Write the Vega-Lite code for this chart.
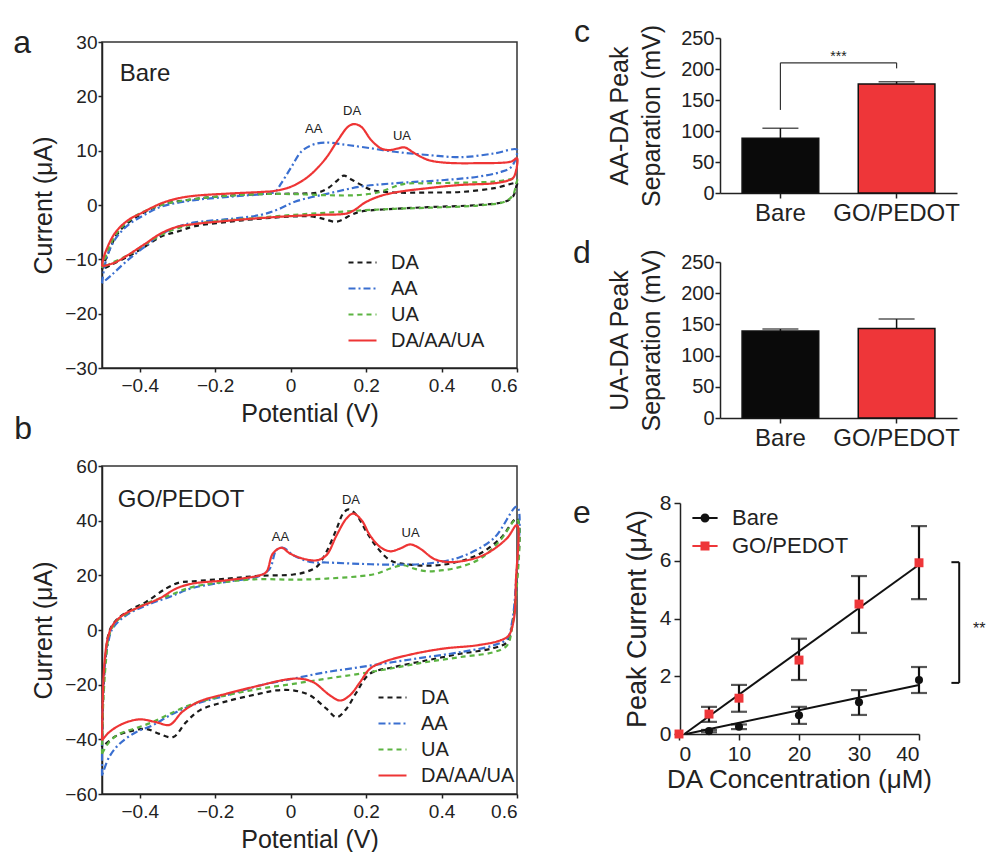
{
"$schema": "https://vega.github.io/schema/vega-lite/v6.json",
"autosize": {"type": "none"},
"padding": {"left": 102, "top": 42, "right": 885, "bottom": 810},
"config": {
  "font": "Liberation Sans",
  "view": {"stroke": null},
  "axis": {"grid": false, "domainColor": "#222", "tickColor": "#222", "labelColor": "#222", "titleColor": "#222", "titleFontWeight": "normal", "domainWidth": 1.5, "tickWidth": 1.5, "labelOverlap": false},
  "legend": {"labelColor": "#222", "padding": 0},
  "text": {"color": "#222"}
},
"datasets": {
"one": [{}],
"cva": [
{"s":"DA","i":0,"E":-0.5,"I":-11.9},{"s":"DA","i":1,"E":-0.484,"I":-8.9},{"s":"DA","i":2,"E":-0.458,"I":-5.2},{"s":"DA","i":3,"E":-0.413,"I":-2.4},{"s":"DA","i":4,"E":-0.343,"I":0},{"s":"DA","i":5,"E":-0.254,"I":1.1},{"s":"DA","i":6,"E":-0.166,"I":1.7},{"s":"DA","i":7,"E":-0.078,"I":2.0},{"s":"DA","i":8,"E":0.011,"I":2.1},{"s":"DA","i":9,"E":0.072,"I":2.3},{"s":"DA","i":10,"E":0.099,"I":3.1},{"s":"DA","i":11,"E":0.125,"I":4.6},{"s":"DA","i":12,"E":0.141,"I":5.4},{"s":"DA","i":13,"E":0.161,"I":4.7},{"s":"DA","i":14,"E":0.187,"I":3.7},{"s":"DA","i":15,"E":0.214,"I":2.8},{"s":"DA","i":16,"E":0.276,"I":2.3},{"s":"DA","i":17,"E":0.364,"I":2.3},{"s":"DA","i":18,"E":0.452,"I":2.4},{"s":"DA","i":19,"E":0.54,"I":3.1},{"s":"DA","i":20,"E":0.6,"I":4.0},{"s":"DA","i":21,"E":0.598,"I":3.4},{"s":"DA","i":22,"E":0.589,"I":1.5},{"s":"DA","i":23,"E":0.567,"I":0.6},{"s":"DA","i":24,"E":0.496,"I":0},{"s":"DA","i":25,"E":0.364,"I":-0.4},{"s":"DA","i":26,"E":0.276,"I":-0.7},{"s":"DA","i":27,"E":0.187,"I":-1.2},{"s":"DA","i":28,"E":0.161,"I":-1.8},{"s":"DA","i":29,"E":0.134,"I":-2.8},{"s":"DA","i":30,"E":0.117,"I":-3.1},{"s":"DA","i":31,"E":0.09,"I":-2.6},{"s":"DA","i":32,"E":0.055,"I":-2.1},{"s":"DA","i":33,"E":0.011,"I":-2.1},{"s":"DA","i":34,"E":-0.078,"I":-2.5},{"s":"DA","i":35,"E":-0.166,"I":-3.1},{"s":"DA","i":36,"E":-0.254,"I":-3.9},{"s":"DA","i":37,"E":-0.3,"I":-4.9},{"s":"DA","i":38,"E":-0.343,"I":-5.8},{"s":"DA","i":39,"E":-0.387,"I":-7.7},{"s":"DA","i":40,"E":-0.431,"I":-9.5},{"s":"DA","i":41,"E":-0.475,"I":-11.0},{"s":"DA","i":42,"E":-0.5,"I":-11.9},
{"s":"AA","i":0,"E":-0.5,"I":-14.4},{"s":"AA","i":1,"E":-0.489,"I":-10.1},{"s":"AA","i":2,"E":-0.466,"I":-6.4},{"s":"AA","i":3,"E":-0.431,"I":-3.7},{"s":"AA","i":4,"E":-0.387,"I":-1.8},{"s":"AA","i":5,"E":-0.343,"I":-0.3},{"s":"AA","i":6,"E":-0.254,"I":0.9},{"s":"AA","i":7,"E":-0.166,"I":1.5},{"s":"AA","i":8,"E":-0.078,"I":2.0},{"s":"AA","i":9,"E":-0.042,"I":2.4},{"s":"AA","i":10,"E":-0.025,"I":4.0},{"s":"AA","i":11,"E":0.002,"I":7.0},{"s":"AA","i":12,"E":0.028,"I":9.8},{"s":"AA","i":13,"E":0.055,"I":11.0},{"s":"AA","i":14,"E":0.09,"I":11.5},{"s":"AA","i":15,"E":0.143,"I":11.1},{"s":"AA","i":16,"E":0.187,"I":10.7},{"s":"AA","i":17,"E":0.276,"I":9.8},{"s":"AA","i":18,"E":0.364,"I":9.2},{"s":"AA","i":19,"E":0.452,"I":8.8},{"s":"AA","i":20,"E":0.54,"I":9.5},{"s":"AA","i":21,"E":0.6,"I":10.2},{"s":"AA","i":22,"E":0.598,"I":8.9},{"s":"AA","i":23,"E":0.585,"I":7.0},{"s":"AA","i":24,"E":0.558,"I":6.1},{"s":"AA","i":25,"E":0.496,"I":5.2},{"s":"AA","i":26,"E":0.408,"I":4.6},{"s":"AA","i":27,"E":0.276,"I":4.0},{"s":"AA","i":28,"E":0.187,"I":3.4},{"s":"AA","i":29,"E":0.099,"I":2.1},{"s":"AA","i":30,"E":0.011,"I":0.6},{"s":"AA","i":31,"E":-0.033,"I":-0.8},{"s":"AA","i":32,"E":-0.078,"I":-1.8},{"s":"AA","i":33,"E":-0.166,"I":-2.6},{"s":"AA","i":34,"E":-0.254,"I":-3.2},{"s":"AA","i":35,"E":-0.3,"I":-4.0},{"s":"AA","i":36,"E":-0.343,"I":-5.4},{"s":"AA","i":37,"E":-0.387,"I":-7.7},{"s":"AA","i":38,"E":-0.431,"I":-10.1},{"s":"AA","i":39,"E":-0.475,"I":-12.9},{"s":"AA","i":40,"E":-0.5,"I":-14.4},
{"s":"UA","i":0,"E":-0.5,"I":-11.6},{"s":"UA","i":1,"E":-0.484,"I":-8.3},{"s":"UA","i":2,"E":-0.458,"I":-4.9},{"s":"UA","i":3,"E":-0.413,"I":-2.1},{"s":"UA","i":4,"E":-0.343,"I":0},{"s":"UA","i":5,"E":-0.254,"I":1.1},{"s":"UA","i":6,"E":-0.166,"I":1.7},{"s":"UA","i":7,"E":-0.078,"I":2.0},{"s":"UA","i":8,"E":0.011,"I":2.0},{"s":"UA","i":9,"E":0.099,"I":1.8},{"s":"UA","i":10,"E":0.17,"I":1.8},{"s":"UA","i":11,"E":0.231,"I":2.3},{"s":"UA","i":12,"E":0.276,"I":3.4},{"s":"UA","i":13,"E":0.302,"I":3.9},{"s":"UA","i":14,"E":0.364,"I":4.0},{"s":"UA","i":15,"E":0.452,"I":4.1},{"s":"UA","i":16,"E":0.54,"I":4.3},{"s":"UA","i":17,"E":0.6,"I":4.7},{"s":"UA","i":18,"E":0.598,"I":4.0},{"s":"UA","i":19,"E":0.589,"I":1.8},{"s":"UA","i":20,"E":0.567,"I":0.6},{"s":"UA","i":21,"E":0.496,"I":-0.1},{"s":"UA","i":22,"E":0.364,"I":-0.5},{"s":"UA","i":23,"E":0.276,"I":-0.7},{"s":"UA","i":24,"E":0.187,"I":-1.0},{"s":"UA","i":25,"E":0.099,"I":-1.4},{"s":"UA","i":26,"E":0.011,"I":-1.8},{"s":"UA","i":27,"E":-0.078,"I":-2.3},{"s":"UA","i":28,"E":-0.166,"I":-2.8},{"s":"UA","i":29,"E":-0.254,"I":-3.5},{"s":"UA","i":30,"E":-0.3,"I":-4.3},{"s":"UA","i":31,"E":-0.343,"I":-5.5},{"s":"UA","i":32,"E":-0.387,"I":-7.3},{"s":"UA","i":33,"E":-0.431,"I":-9.2},{"s":"UA","i":34,"E":-0.475,"I":-10.7},{"s":"UA","i":35,"E":-0.5,"I":-11.6},
{"s":"DA/AA/UA","i":0,"E":-0.5,"I":-11.3},{"s":"DA/AA/UA","i":1,"E":-0.495,"I":-9.5},{"s":"DA/AA/UA","i":2,"E":-0.466,"I":-5.2},{"s":"DA/AA/UA","i":3,"E":-0.431,"I":-2.8},{"s":"DA/AA/UA","i":4,"E":-0.396,"I":-1.5},{"s":"DA/AA/UA","i":5,"E":-0.343,"I":0.3},{"s":"DA/AA/UA","i":6,"E":-0.3,"I":1.2},{"s":"DA/AA/UA","i":7,"E":-0.254,"I":1.7},{"s":"DA/AA/UA","i":8,"E":-0.166,"I":2.1},{"s":"DA/AA/UA","i":9,"E":-0.078,"I":2.4},{"s":"DA/AA/UA","i":10,"E":-0.042,"I":2.6},{"s":"DA/AA/UA","i":11,"E":0.002,"I":3.4},{"s":"DA/AA/UA","i":12,"E":0.046,"I":5.2},{"s":"DA/AA/UA","i":13,"E":0.09,"I":8.3},{"s":"DA/AA/UA","i":14,"E":0.125,"I":11.9},{"s":"DA/AA/UA","i":15,"E":0.152,"I":14.4},{"s":"DA/AA/UA","i":16,"E":0.168,"I":14.9},{"s":"DA/AA/UA","i":17,"E":0.187,"I":14.4},{"s":"DA/AA/UA","i":18,"E":0.214,"I":11.9},{"s":"DA/AA/UA","i":19,"E":0.24,"I":10.4},{"s":"DA/AA/UA","i":20,"E":0.262,"I":10.1},{"s":"DA/AA/UA","i":21,"E":0.284,"I":10.4},{"s":"DA/AA/UA","i":22,"E":0.302,"I":10.6},{"s":"DA/AA/UA","i":23,"E":0.329,"I":9.5},{"s":"DA/AA/UA","i":24,"E":0.364,"I":8.3},{"s":"DA/AA/UA","i":25,"E":0.408,"I":7.8},{"s":"DA/AA/UA","i":26,"E":0.496,"I":7.7},{"s":"DA/AA/UA","i":27,"E":0.585,"I":8.0},{"s":"DA/AA/UA","i":28,"E":0.6,"I":8.6},{"s":"DA/AA/UA","i":29,"E":0.598,"I":6.5},{"s":"DA/AA/UA","i":30,"E":0.59,"I":5.0},{"s":"DA/AA/UA","i":31,"E":0.576,"I":4.5},{"s":"DA/AA/UA","i":32,"E":0.54,"I":4.0},{"s":"DA/AA/UA","i":33,"E":0.452,"I":3.7},{"s":"DA/AA/UA","i":34,"E":0.364,"I":3.1},{"s":"DA/AA/UA","i":35,"E":0.276,"I":2.3},{"s":"DA/AA/UA","i":36,"E":0.231,"I":1.5},{"s":"DA/AA/UA","i":37,"E":0.196,"I":0.4},{"s":"DA/AA/UA","i":38,"E":0.17,"I":-0.9},{"s":"DA/AA/UA","i":39,"E":0.152,"I":-1.5},{"s":"DA/AA/UA","i":40,"E":0.134,"I":-1.7},{"s":"DA/AA/UA","i":41,"E":0.081,"I":-1.8},{"s":"DA/AA/UA","i":42,"E":0.011,"I":-2.0},{"s":"DA/AA/UA","i":43,"E":-0.078,"I":-2.4},{"s":"DA/AA/UA","i":44,"E":-0.166,"I":-2.9},{"s":"DA/AA/UA","i":45,"E":-0.254,"I":-3.5},{"s":"DA/AA/UA","i":46,"E":-0.3,"I":-4.0},{"s":"DA/AA/UA","i":47,"E":-0.343,"I":-5.2},{"s":"DA/AA/UA","i":48,"E":-0.387,"I":-7.2},{"s":"DA/AA/UA","i":49,"E":-0.431,"I":-9.2},{"s":"DA/AA/UA","i":50,"E":-0.466,"I":-10.6},{"s":"DA/AA/UA","i":51,"E":-0.5,"I":-11.3}
],
"cvb": [
{"s":"DA","i":0,"E":-0.5,"I":-42.9},{"s":"DA","i":1,"E":-0.497,"I":-25},{"s":"DA","i":2,"E":-0.491,"I":-10.5},{"s":"DA","i":3,"E":-0.481,"I":-0.7},{"s":"DA","i":4,"E":-0.463,"I":3.5},{"s":"DA","i":5,"E":-0.427,"I":7.2},{"s":"DA","i":6,"E":-0.383,"I":10.3},{"s":"DA","i":7,"E":-0.33,"I":15.2},{"s":"DA","i":8,"E":-0.294,"I":17.4},{"s":"DA","i":9,"E":-0.259,"I":17.8},{"s":"DA","i":10,"E":-0.17,"I":18.8},{"s":"DA","i":11,"E":-0.082,"I":19.8},{"s":"DA","i":12,"E":0.007,"I":20.3},{"s":"DA","i":13,"E":0.042,"I":21.3},{"s":"DA","i":14,"E":0.069,"I":23.1},{"s":"DA","i":15,"E":0.095,"I":28.6},{"s":"DA","i":16,"E":0.122,"I":37.1},{"s":"DA","i":17,"E":0.139,"I":42.6},{"s":"DA","i":18,"E":0.153,"I":44.1},{"s":"DA","i":19,"E":0.175,"I":42.0},{"s":"DA","i":20,"E":0.201,"I":35.9},{"s":"DA","i":21,"E":0.228,"I":30.4},{"s":"DA","i":22,"E":0.264,"I":25.5},{"s":"DA","i":23,"E":0.317,"I":23.9},{"s":"DA","i":24,"E":0.405,"I":23.9},{"s":"DA","i":25,"E":0.494,"I":27.4},{"s":"DA","i":26,"E":0.556,"I":33.5},{"s":"DA","i":27,"E":0.6,"I":40.8},{"s":"DA","i":28,"E":0.597,"I":13.9},{"s":"DA","i":29,"E":0.587,"I":1.7},{"s":"DA","i":30,"E":0.574,"I":-4.4},{"s":"DA","i":31,"E":0.538,"I":-6.6},{"s":"DA","i":32,"E":0.45,"I":-8.7},{"s":"DA","i":33,"E":0.361,"I":-11.1},{"s":"DA","i":34,"E":0.273,"I":-13.6},{"s":"DA","i":35,"E":0.21,"I":-16.0},{"s":"DA","i":36,"E":0.175,"I":-22.7},{"s":"DA","i":37,"E":0.148,"I":-28.8},{"s":"DA","i":38,"E":0.122,"I":-31.9},{"s":"DA","i":39,"E":0.095,"I":-28.8},{"s":"DA","i":40,"E":0.051,"I":-23.9},{"s":"DA","i":41,"E":0.007,"I":-22.1},{"s":"DA","i":42,"E":-0.038,"I":-22.1},{"s":"DA","i":43,"E":-0.082,"I":-23.3},{"s":"DA","i":44,"E":-0.17,"I":-26.1},{"s":"DA","i":45,"E":-0.241,"I":-29.4},{"s":"DA","i":46,"E":-0.277,"I":-33.7},{"s":"DA","i":47,"E":-0.312,"I":-39.2},{"s":"DA","i":48,"E":-0.348,"I":-38.0},{"s":"DA","i":49,"E":-0.383,"I":-36.2},{"s":"DA","i":50,"E":-0.418,"I":-36.8},{"s":"DA","i":51,"E":-0.463,"I":-38.8},{"s":"DA","i":52,"E":-0.5,"I":-42.9},
{"s":"AA","i":0,"E":-0.5,"I":-53.3},{"s":"AA","i":1,"E":-0.499,"I":-31.3},{"s":"AA","i":2,"E":-0.494,"I":-15.4},{"s":"AA","i":3,"E":-0.485,"I":-5.6},{"s":"AA","i":4,"E":-0.472,"I":0.5},{"s":"AA","i":5,"E":-0.436,"I":5.4},{"s":"AA","i":6,"E":-0.383,"I":9.0},{"s":"AA","i":7,"E":-0.321,"I":12.1},{"s":"AA","i":8,"E":-0.259,"I":15.4},{"s":"AA","i":9,"E":-0.17,"I":17.6},{"s":"AA","i":10,"E":-0.082,"I":19.8},{"s":"AA","i":11,"E":-0.055,"I":22.5},{"s":"AA","i":12,"E":-0.038,"I":29.2},{"s":"AA","i":13,"E":-0.02,"I":30.1},{"s":"AA","i":14,"E":0.007,"I":27.4},{"s":"AA","i":15,"E":0.051,"I":24.9},{"s":"AA","i":16,"E":0.095,"I":24.7},{"s":"AA","i":17,"E":0.184,"I":24.2},{"s":"AA","i":18,"E":0.273,"I":23.9},{"s":"AA","i":19,"E":0.361,"I":24.3},{"s":"AA","i":20,"E":0.45,"I":26.7},{"s":"AA","i":21,"E":0.538,"I":33.5},{"s":"AA","i":22,"E":0.6,"I":45.1},{"s":"AA","i":23,"E":0.597,"I":17.6},{"s":"AA","i":24,"E":0.587,"I":2.9},{"s":"AA","i":25,"E":0.574,"I":-3.2},{"s":"AA","i":26,"E":0.538,"I":-5.6},{"s":"AA","i":27,"E":0.45,"I":-8.1},{"s":"AA","i":28,"E":0.361,"I":-9.9},{"s":"AA","i":29,"E":0.273,"I":-11.7},{"s":"AA","i":30,"E":0.184,"I":-13.6},{"s":"AA","i":31,"E":0.095,"I":-15.4},{"s":"AA","i":32,"E":0.007,"I":-17.8},{"s":"AA","i":33,"E":-0.082,"I":-20.3},{"s":"AA","i":34,"E":-0.17,"I":-23.9},{"s":"AA","i":35,"E":-0.259,"I":-27.4},{"s":"AA","i":36,"E":-0.321,"I":-31.3},{"s":"AA","i":37,"E":-0.366,"I":-34.9},{"s":"AA","i":38,"E":-0.41,"I":-37.4},{"s":"AA","i":39,"E":-0.454,"I":-41.7},{"s":"AA","i":40,"E":-0.481,"I":-46.5},{"s":"AA","i":41,"E":-0.5,"I":-53.3},
{"s":"UA","i":0,"E":-0.5,"I":-45.3},{"s":"UA","i":1,"E":-0.497,"I":-27.6},{"s":"UA","i":2,"E":-0.489,"I":-10.5},{"s":"UA","i":3,"E":-0.481,"I":-2.0},{"s":"UA","i":4,"E":-0.463,"I":2.9},{"s":"UA","i":5,"E":-0.427,"I":6.6},{"s":"UA","i":6,"E":-0.383,"I":9.7},{"s":"UA","i":7,"E":-0.321,"I":12.7},{"s":"UA","i":8,"E":-0.259,"I":15.8},{"s":"UA","i":9,"E":-0.17,"I":17.6},{"s":"UA","i":10,"E":-0.082,"I":18.6},{"s":"UA","i":11,"E":0.007,"I":18.4},{"s":"UA","i":12,"E":0.095,"I":18.8},{"s":"UA","i":13,"E":0.184,"I":19.7},{"s":"UA","i":14,"E":0.228,"I":20.6},{"s":"UA","i":15,"E":0.264,"I":22.5},{"s":"UA","i":16,"E":0.299,"I":23.7},{"s":"UA","i":17,"E":0.326,"I":22.5},{"s":"UA","i":18,"E":0.361,"I":21.5},{"s":"UA","i":19,"E":0.405,"I":21.9},{"s":"UA","i":20,"E":0.45,"I":23.1},{"s":"UA","i":21,"E":0.503,"I":26.1},{"s":"UA","i":22,"E":0.556,"I":32.9},{"s":"UA","i":23,"E":0.6,"I":40.6},{"s":"UA","i":24,"E":0.597,"I":11.5},{"s":"UA","i":25,"E":0.587,"I":1.1},{"s":"UA","i":26,"E":0.574,"I":-5.6},{"s":"UA","i":27,"E":0.538,"I":-8.1},{"s":"UA","i":28,"E":0.45,"I":-9.9},{"s":"UA","i":29,"E":0.361,"I":-11.7},{"s":"UA","i":30,"E":0.273,"I":-13.9},{"s":"UA","i":31,"E":0.184,"I":-16.0},{"s":"UA","i":32,"E":0.095,"I":-17.8},{"s":"UA","i":33,"E":0.007,"I":-19.7},{"s":"UA","i":34,"E":-0.082,"I":-21.5},{"s":"UA","i":35,"E":-0.17,"I":-23.9},{"s":"UA","i":36,"E":-0.259,"I":-27.0},{"s":"UA","i":37,"E":-0.321,"I":-30.7},{"s":"UA","i":38,"E":-0.366,"I":-33.7},{"s":"UA","i":39,"E":-0.41,"I":-35.9},{"s":"UA","i":40,"E":-0.454,"I":-38.0},{"s":"UA","i":41,"E":-0.481,"I":-41.0},{"s":"UA","i":42,"E":-0.5,"I":-45.3},
{"s":"DA/AA/UA","i":0,"E":-0.5,"I":-40.4},{"s":"DA/AA/UA","i":1,"E":-0.498,"I":-25.2},{"s":"DA/AA/UA","i":2,"E":-0.494,"I":-13},{"s":"DA/AA/UA","i":3,"E":-0.485,"I":-3.2},{"s":"DA/AA/UA","i":4,"E":-0.472,"I":1.7},{"s":"DA/AA/UA","i":5,"E":-0.445,"I":5.4},{"s":"DA/AA/UA","i":6,"E":-0.401,"I":8.4},{"s":"DA/AA/UA","i":7,"E":-0.348,"I":11.5},{"s":"DA/AA/UA","i":8,"E":-0.303,"I":15.2},{"s":"DA/AA/UA","i":9,"E":-0.259,"I":17.0},{"s":"DA/AA/UA","i":10,"E":-0.17,"I":18.2},{"s":"DA/AA/UA","i":11,"E":-0.082,"I":20.0},{"s":"DA/AA/UA","i":12,"E":-0.064,"I":21.3},{"s":"DA/AA/UA","i":13,"E":-0.047,"I":28.0},{"s":"DA/AA/UA","i":14,"E":-0.024,"I":30.1},{"s":"DA/AA/UA","i":15,"E":-0.002,"I":28.0},{"s":"DA/AA/UA","i":16,"E":0.033,"I":26.1},{"s":"DA/AA/UA","i":17,"E":0.069,"I":25.5},{"s":"DA/AA/UA","i":18,"E":0.095,"I":27.4},{"s":"DA/AA/UA","i":19,"E":0.122,"I":34.7},{"s":"DA/AA/UA","i":20,"E":0.148,"I":40.8},{"s":"DA/AA/UA","i":21,"E":0.166,"I":42.6},{"s":"DA/AA/UA","i":22,"E":0.188,"I":40.2},{"s":"DA/AA/UA","i":23,"E":0.21,"I":34.7},{"s":"DA/AA/UA","i":24,"E":0.237,"I":30.4},{"s":"DA/AA/UA","i":25,"E":0.264,"I":28.8},{"s":"DA/AA/UA","i":26,"E":0.29,"I":29.8},{"s":"DA/AA/UA","i":27,"E":0.317,"I":31.3},{"s":"DA/AA/UA","i":28,"E":0.343,"I":29.8},{"s":"DA/AA/UA","i":29,"E":0.379,"I":26.1},{"s":"DA/AA/UA","i":30,"E":0.414,"I":24.9},{"s":"DA/AA/UA","i":31,"E":0.467,"I":25.5},{"s":"DA/AA/UA","i":32,"E":0.52,"I":28.0},{"s":"DA/AA/UA","i":33,"E":0.573,"I":33.5},{"s":"DA/AA/UA","i":34,"E":0.6,"I":38.4},{"s":"DA/AA/UA","i":35,"E":0.597,"I":17.6},{"s":"DA/AA/UA","i":36,"E":0.592,"I":4.2},{"s":"DA/AA/UA","i":37,"E":0.578,"I":-2.0},{"s":"DA/AA/UA","i":38,"E":0.556,"I":-3.8},{"s":"DA/AA/UA","i":39,"E":0.494,"I":-5.6},{"s":"DA/AA/UA","i":40,"E":0.405,"I":-6.8},{"s":"DA/AA/UA","i":41,"E":0.317,"I":-9.0},{"s":"DA/AA/UA","i":42,"E":0.246,"I":-11.7},{"s":"DA/AA/UA","i":43,"E":0.21,"I":-14.2},{"s":"DA/AA/UA","i":44,"E":0.184,"I":-19.1},{"s":"DA/AA/UA","i":45,"E":0.157,"I":-23.9},{"s":"DA/AA/UA","i":46,"E":0.131,"I":-25.8},{"s":"DA/AA/UA","i":47,"E":0.104,"I":-23.9},{"s":"DA/AA/UA","i":48,"E":0.06,"I":-19.1},{"s":"DA/AA/UA","i":49,"E":0.024,"I":-17.8},{"s":"DA/AA/UA","i":50,"E":-0.011,"I":-18.1},{"s":"DA/AA/UA","i":51,"E":-0.082,"I":-20.3},{"s":"DA/AA/UA","i":52,"E":-0.17,"I":-23.3},{"s":"DA/AA/UA","i":53,"E":-0.241,"I":-26.1},{"s":"DA/AA/UA","i":54,"E":-0.286,"I":-29.8},{"s":"DA/AA/UA","i":55,"E":-0.321,"I":-34.7},{"s":"DA/AA/UA","i":56,"E":-0.357,"I":-33.7},{"s":"DA/AA/UA","i":57,"E":-0.401,"I":-32.7},{"s":"DA/AA/UA","i":58,"E":-0.445,"I":-34.3},{"s":"DA/AA/UA","i":59,"E":-0.481,"I":-37.4},{"s":"DA/AA/UA","i":60,"E":-0.5,"I":-40.4}
],
"barC": [{"g":"Bare","m":88.5,"hi":104.5},{"g":"GO/PEDOT","m":176,"hi":179.5}],
"barD": [{"g":"Bare","m":139.4,"hi":142.6},{"g":"GO/PEDOT","m":143.6,"hi":158.5}],
"eP": [
{"s":"Bare","c":0,"m":0,"lo":0,"hi":0},{"s":"Bare","c":5,"m":0.1,"lo":0.06,"hi":0.14},{"s":"Bare","c":10,"m":0.25,"lo":0.17,"hi":0.33},{"s":"Bare","c":20,"m":0.65,"lo":0.35,"hi":0.94},{"s":"Bare","c":30,"m":1.1,"lo":0.66,"hi":1.52},{"s":"Bare","c":40,"m":1.87,"lo":1.42,"hi":2.32},
{"s":"GO/PEDOT","c":0,"m":0,"lo":0,"hi":0},{"s":"GO/PEDOT","c":5,"m":0.69,"lo":0.42,"hi":0.94},{"s":"GO/PEDOT","c":10,"m":1.24,"lo":0.77,"hi":1.7},{"s":"GO/PEDOT","c":20,"m":2.56,"lo":1.87,"hi":3.3},{"s":"GO/PEDOT","c":30,"m":4.5,"lo":3.5,"hi":5.47},{"s":"GO/PEDOT","c":40,"m":5.93,"lo":4.67,"hi":7.2}
],
"eF": [{"s":"Bare","c":1.2,"m":0},{"s":"Bare","c":40,"m":1.7},{"s":"GO/PEDOT","c":0.9,"m":0},{"s":"GO/PEDOT","c":40,"m":5.86}]
},
"bounds": "flush",
"spacing": 618,
"resolve": {"scale": {"color": "independent", "strokeDash": "independent", "strokeWidth": "independent", "shape": "independent"}, "legend": {"color": "independent", "strokeDash": "independent", "shape": "independent"}},
"hconcat": [
{
"vconcat": [
{
"width": 415, "height": 326,
"view": {"stroke": "#333", "strokeWidth": 1.5},
"layer": [
{"data": {"name": "cva"}, "mark": {"type": "line", "interpolate": "catmull-rom"},
 "encoding": {
  "x": {"field": "E", "type": "quantitative", "scale": {"domain": [-0.5, 0.6], "nice": false, "zero": false}, "axis": {"values": [-0.4,-0.2,0,0.2,0.4,0.6], "format": "~g", "title": "Potential (V)", "labelFontSize": 19, "titleFontSize": 25, "tickSize": 4, "labelPadding": 4, "titlePadding": 6}},
  "y": {"field": "I", "type": "quantitative", "scale": {"domain": [-30, 30], "nice": false, "zero": false}, "axis": {"values": [-30,-20,-10,0,10,20,30], "title": "Current (μA)", "labelFontSize": 19, "titleFontSize": 25, "tickSize": 4, "labelPadding": 1, "titlePadding": 8}},
  "order": {"field": "i", "type": "quantitative"},
  "color": {"field": "s", "type": "nominal", "scale": {"domain": ["DA","AA","UA","DA/AA/UA"], "range": ["#1a1a1a","#3a6fd0","#5cb442","#ee3535"]}, "legend": {"title": null, "orient": "none", "legendX": 245, "legendY": 205, "labelFontSize": 20, "symbolSize": 784, "symbolStrokeWidth": 2.2, "labelOffset": 13, "rowPadding": 0, "symbolType": "stroke"}},
  "strokeDash": {"field": "s", "type": "nominal", "scale": {"domain": ["DA","AA","UA","DA/AA/UA"], "range": [[5,4],[7,3,2,3],[5,4],[1,0]]}, "legend": {"title": null, "orient": "none", "legendX": 245, "legendY": 205, "labelFontSize": 20, "symbolSize": 784, "symbolStrokeWidth": 2.2, "labelOffset": 13, "rowPadding": 0, "symbolType": "stroke"}},
  "strokeWidth": {"field": "s", "type": "nominal", "scale": {"domain": ["DA","AA","UA","DA/AA/UA"], "range": [2.2,2.2,2.2,2.6]}, "legend": null}
 }},
{"data": {"name": "one"}, "mark": {"type": "text", "fontSize": 24, "align": "left", "baseline": "middle"}, "encoding": {"x": {"datum": -0.453}, "y": {"datum": 24.2}, "text": {"value": "Bare"}}},
{"data": {"name": "one"}, "mark": {"type": "text", "fontSize": 13, "align": "center", "baseline": "middle"}, "encoding": {"x": {"datum": 0.061}, "y": {"datum": 14.0}, "text": {"value": "AA"}}},
{"data": {"name": "one"}, "mark": {"type": "text", "fontSize": 13, "align": "center", "baseline": "middle"}, "encoding": {"x": {"datum": 0.163}, "y": {"datum": 17.3}, "text": {"value": "DA"}}},
{"data": {"name": "one"}, "mark": {"type": "text", "fontSize": 13, "align": "center", "baseline": "middle"}, "encoding": {"x": {"datum": 0.295}, "y": {"datum": 12.7}, "text": {"value": "UA"}}},
{"data": {"name": "one"}, "mark": {"type": "text", "fontSize": 32, "align": "center", "baseline": "alphabetic"}, "encoding": {"x": {"datum": -0.712}, "y": {"datum": 28.0}, "text": {"value": "a"}}},
{"data": {"name": "one"}, "mark": {"type": "text", "fontSize": 32, "align": "center", "baseline": "alphabetic"}, "encoding": {"x": {"datum": 0.772}, "y": {"datum": 30.0}, "text": {"value": "c"}}},
{"data": {"name": "one"}, "mark": {"type": "text", "fontSize": 32, "align": "center", "baseline": "alphabetic"}, "encoding": {"x": {"datum": 0.772}, "y": {"datum": -10.7}, "text": {"value": "d"}}}
]
},
{
"width": 415, "height": 328,
"view": {"stroke": "#333", "strokeWidth": 1.5},
"layer": [
{"data": {"name": "cvb"}, "mark": {"type": "line", "interpolate": "catmull-rom"},
 "encoding": {
  "x": {"field": "E", "type": "quantitative", "scale": {"domain": [-0.5, 0.6], "nice": false, "zero": false}, "axis": {"values": [-0.4,-0.2,0,0.2,0.4,0.6], "format": "~g", "title": "Potential (V)", "labelFontSize": 19, "titleFontSize": 25, "tickSize": 4, "labelPadding": 4, "titlePadding": 6}},
  "y": {"field": "I", "type": "quantitative", "scale": {"domain": [-60, 60], "nice": false, "zero": false}, "axis": {"values": [-60,-40,-20,0,20,40,60], "title": "Current (μA)", "labelFontSize": 19, "titleFontSize": 25, "tickSize": 4, "labelPadding": 1, "titlePadding": 8}},
  "order": {"field": "i", "type": "quantitative"},
  "color": {"field": "s", "type": "nominal", "scale": {"domain": ["DA","AA","UA","DA/AA/UA"], "range": ["#1a1a1a","#3a6fd0","#5cb442","#ee3535"]}, "legend": {"title": null, "orient": "none", "legendX": 275, "legendY": 216, "labelFontSize": 20, "symbolSize": 784, "symbolStrokeWidth": 2.2, "labelOffset": 13, "rowPadding": -1, "symbolType": "stroke"}},
  "strokeDash": {"field": "s", "type": "nominal", "scale": {"domain": ["DA","AA","UA","DA/AA/UA"], "range": [[5,4],[7,3,2,3],[5,4],[1,0]]}, "legend": {"title": null, "orient": "none", "legendX": 275, "legendY": 216, "labelFontSize": 20, "symbolSize": 784, "symbolStrokeWidth": 2.2, "labelOffset": 13, "rowPadding": -1, "symbolType": "stroke"}},
  "strokeWidth": {"field": "s", "type": "nominal", "scale": {"domain": ["DA","AA","UA","DA/AA/UA"], "range": [2.2,2.2,2.2,2.6]}, "legend": null}
 }},
{"data": {"name": "one"}, "mark": {"type": "text", "fontSize": 24, "align": "left", "baseline": "middle"}, "encoding": {"x": {"datum": -0.458}, "y": {"datum": 47.6}, "text": {"value": "GO/PEDOT"}}},
{"data": {"name": "one"}, "mark": {"type": "text", "fontSize": 13, "align": "center", "baseline": "middle"}, "encoding": {"x": {"datum": -0.027}, "y": {"datum": 34.1}, "text": {"value": "AA"}}},
{"data": {"name": "one"}, "mark": {"type": "text", "fontSize": 13, "align": "center", "baseline": "middle"}, "encoding": {"x": {"datum": 0.16}, "y": {"datum": 47.6}, "text": {"value": "DA"}}},
{"data": {"name": "one"}, "mark": {"type": "text", "fontSize": 13, "align": "center", "baseline": "middle"}, "encoding": {"x": {"datum": 0.318}, "y": {"datum": 35.6}, "text": {"value": "UA"}}},
{"data": {"name": "one"}, "mark": {"type": "text", "fontSize": 32, "align": "center", "baseline": "alphabetic"}, "encoding": {"x": {"datum": -0.709}, "y": {"datum": 69.9}, "text": {"value": "b"}}},
{"data": {"name": "one"}, "mark": {"type": "text", "fontSize": 32, "align": "center", "baseline": "alphabetic"}, "encoding": {"x": {"datum": 0.772}, "y": {"datum": 39.2}, "text": {"value": "e"}}}
]
}
],
"spacing": 98,
"bounds": "flush",
"resolve": {"scale": {"color": "independent", "strokeDash": "independent", "strokeWidth": "independent"}, "legend": {"color": "independent", "strokeDash": "independent"}}
},
{
"vconcat": [
{
"width": 237, "height": 151,
"data": {"name": "barC"},
"layer": [
{"mark": {"type": "bar", "stroke": "#111", "strokeWidth": 1.5},
 "encoding": {
  "x": {"field": "g", "type": "nominal", "scale": {"domain": ["Bare","GO/PEDOT"], "paddingInner": 0.34, "paddingOuter": 0.19}, "axis": {"title": null, "labelAngle": 0, "labelFontSize": 24, "tickSize": 5, "labelPadding": 3}},
  "y": {"field": "m", "type": "quantitative", "scale": {"domain": [0, 250], "range": [151, -4], "nice": false}, "axis": {"values": [0,50,100,150,200,250], "tickCount": 6, "labelOverlap": false, "title": ["AA-DA Peak", "Separation (mV)"], "titleFontSize": 25, "titleLineHeight": 32, "labelFontSize": 20, "tickSize": 5, "labelPadding": 1, "titlePadding": 16}},
  "color": {"field": "g", "type": "nominal", "scale": {"domain": ["Bare","GO/PEDOT"], "range": ["#0a0a0a","#ee3639"]}, "legend": null}
 }},
{"mark": {"type": "rule", "color": "#111", "strokeWidth": 1.5}, "encoding": {"x": {"field": "g", "type": "nominal"}, "y": {"field": "m", "type": "quantitative"}, "y2": {"field": "hi"}}},
{"mark": {"type": "tick", "orient": "horizontal", "color": "#111", "thickness": 1.5, "size": 36}, "encoding": {"x": {"field": "g", "type": "nominal"}, "y": {"field": "hi", "type": "quantitative"}}},
{"data": {"name": "one"}, "mark": {"type": "rule", "color": "#333", "strokeWidth": 1.2}, "encoding": {"x": {"datum": "Bare"}, "y": {"datum": 134}, "y2": {"datum": 210}}},
{"data": {"name": "one"}, "mark": {"type": "rule", "color": "#333", "strokeWidth": 1.2}, "encoding": {"x": {"datum": "Bare"}, "x2": {"datum": "GO/PEDOT"}, "y": {"datum": 210}}},
{"data": {"name": "one"}, "mark": {"type": "rule", "color": "#333", "strokeWidth": 1.2}, "encoding": {"x": {"datum": "GO/PEDOT"}, "y": {"datum": 201}, "y2": {"datum": 210}}},
{"data": {"name": "one"}, "mark": {"type": "text", "fontSize": 14, "align": "center", "baseline": "alphabetic", "dx": 58, "dy": 3}, "encoding": {"x": {"datum": "Bare"}, "y": {"datum": 218}, "text": {"value": "***"}}}
]
},
{
"width": 237, "height": 156,
"data": {"name": "barD"},
"layer": [
{"mark": {"type": "bar", "stroke": "#111", "strokeWidth": 1.5},
 "encoding": {
  "x": {"field": "g", "type": "nominal", "scale": {"domain": ["Bare","GO/PEDOT"], "paddingInner": 0.34, "paddingOuter": 0.19}, "axis": {"title": null, "labelAngle": 0, "labelFontSize": 24, "tickSize": 5, "labelPadding": 3}},
  "y": {"field": "m", "type": "quantitative", "scale": {"domain": [0, 250], "nice": false}, "axis": {"values": [0,50,100,150,200,250], "tickCount": 6, "labelOverlap": false, "title": ["UA-DA Peak", "Separation (mV)"], "titleFontSize": 25, "titleLineHeight": 32, "labelFontSize": 20, "tickSize": 5, "labelPadding": 1, "titlePadding": 16}},
  "color": {"field": "g", "type": "nominal", "scale": {"domain": ["Bare","GO/PEDOT"], "range": ["#0a0a0a","#ee3639"]}, "legend": null}
 }},
{"mark": {"type": "rule", "color": "#111", "strokeWidth": 1.5}, "encoding": {"x": {"field": "g", "type": "nominal"}, "y": {"field": "m", "type": "quantitative"}, "y2": {"field": "hi"}}},
{"mark": {"type": "tick", "orient": "horizontal", "color": "#111", "thickness": 1.5, "size": 36}, "encoding": {"x": {"field": "g", "type": "nominal"}, "y": {"field": "hi", "type": "quantitative"}}}
]
},
{
"width": 200, "height": 247,
"layer": [
{"data": {"name": "eP"}, "transform": [{"filter": "datum.c > 0"}], "mark": {"type": "rule", "color": "#111", "strokeWidth": 2.2},
 "encoding": {
  "x": {"field": "c", "type": "quantitative", "scale": {"domain": [0, 40], "range": [-41, 199], "nice": false}, "axis": {"values": [0,10,20,30,40], "title": "DA Concentration (μM)", "labelFontSize": 21, "titleFontSize": 26, "tickSize": 6, "labelPadding": 3, "titlePadding": 2}},
  "y": {"field": "lo", "type": "quantitative", "scale": {"domain": [0, 8], "range": [247, 16], "nice": false}, "axis": {"values": [0,2,4,6,8], "title": "Peak Current (μA)", "labelFontSize": 21, "titleFontSize": 27, "tickSize": 6, "labelPadding": 3, "titlePadding": 8, "offset": 40}},
  "y2": {"field": "hi"}
 }},
{"data": {"name": "eP"}, "transform": [{"filter": "datum.c > 0"}], "mark": {"type": "tick", "orient": "horizontal", "color": "#111", "thickness": 2.2, "size": 16},
 "encoding": {"x": {"field": "c", "type": "quantitative"}, "y": {"field": "hi", "type": "quantitative"}}},
{"data": {"name": "eP"}, "transform": [{"filter": "datum.c > 0"}], "mark": {"type": "tick", "orient": "horizontal", "color": "#111", "thickness": 2.2, "size": 16},
 "encoding": {"x": {"field": "c", "type": "quantitative"}, "y": {"field": "lo", "type": "quantitative"}}},
{"data": {"name": "eF"}, "mark": {"type": "line", "color": "#111", "strokeWidth": 2},
 "encoding": {"x": {"field": "c", "type": "quantitative"}, "y": {"field": "m", "type": "quantitative"}, "detail": {"field": "s"}}},
{"data": {"name": "eP"}, "transform": [{"filter": "datum.s == 'Bare'"}], "mark": {"type": "point", "shape": "circle", "filled": true, "color": "#111", "size": 65, "opacity": 1},
 "encoding": {"x": {"field": "c", "type": "quantitative"}, "y": {"field": "m", "type": "quantitative"}}},
{"data": {"name": "eP"}, "transform": [{"filter": "datum.s == 'GO/PEDOT'"}], "mark": {"type": "point", "shape": "square", "filled": true, "color": "#ee3639", "size": 80, "opacity": 1},
 "encoding": {"x": {"field": "c", "type": "quantitative"}, "y": {"field": "m", "type": "quantitative"}}},
{"data": {"name": "eP"}, "mark": {"type": "point", "filled": true, "opacity": 0},
 "encoding": {
  "x": {"field": "c", "type": "quantitative"}, "y": {"field": "m", "type": "quantitative"},
  "color": {"field": "s", "type": "nominal", "scale": {"domain": ["Bare","GO/PEDOT"], "range": ["#111111","#ee3639"]}, "legend": {"title": null, "orient": "none", "legendX": -26, "legendY": 20, "labelFontSize": 22, "symbolSize": 324, "symbolOpacity": 1, "labelOffset": 16, "rowPadding": 6}},
  "shape": {"field": "s", "type": "nominal", "scale": {"domain": ["Bare","GO/PEDOT"], "range": ["M -1.4 -0.11 H 1.4 V 0.11 H -1.4 Z M 0.5 0 A 0.5 0.5 0 1 1 -0.5 0 A 0.5 0.5 0 1 1 0.5 0 Z", "M -1.4 -0.11 H 1.4 V 0.11 H -1.4 Z M -0.5 -0.5 H 0.5 V 0.5 H -0.5 Z"]}, "legend": {"title": null, "orient": "none", "legendX": -26, "legendY": 20, "labelFontSize": 22, "symbolSize": 324, "symbolOpacity": 1, "labelOffset": 16, "rowPadding": 6}}
 }},
{"data": {"name": "one"}, "mark": {"type": "rule", "color": "#111", "strokeWidth": 2}, "encoding": {"x": {"datum": 46.7}, "y": {"datum": 1.77}, "y2": {"datum": 5.95}}},
{"data": {"name": "one"}, "mark": {"type": "rule", "color": "#111", "strokeWidth": 2}, "encoding": {"x": {"datum": 45.4}, "x2": {"datum": 46.7}, "y": {"datum": 5.95}}},
{"data": {"name": "one"}, "mark": {"type": "rule", "color": "#111", "strokeWidth": 2}, "encoding": {"x": {"datum": 45.4}, "x2": {"datum": 46.7}, "y": {"datum": 1.77}}},
{"data": {"name": "one"}, "mark": {"type": "text", "fontSize": 16, "align": "left", "baseline": "alphabetic"}, "encoding": {"x": {"datum": 49}, "y": {"datum": 3.45}, "text": {"value": "**"}}}
]
}
],
"spacing": 69,
"bounds": "flush",
"resolve": {"scale": {"color": "independent", "shape": "independent"}, "legend": {"color": "independent", "shape": "independent"}}
}
]
}
